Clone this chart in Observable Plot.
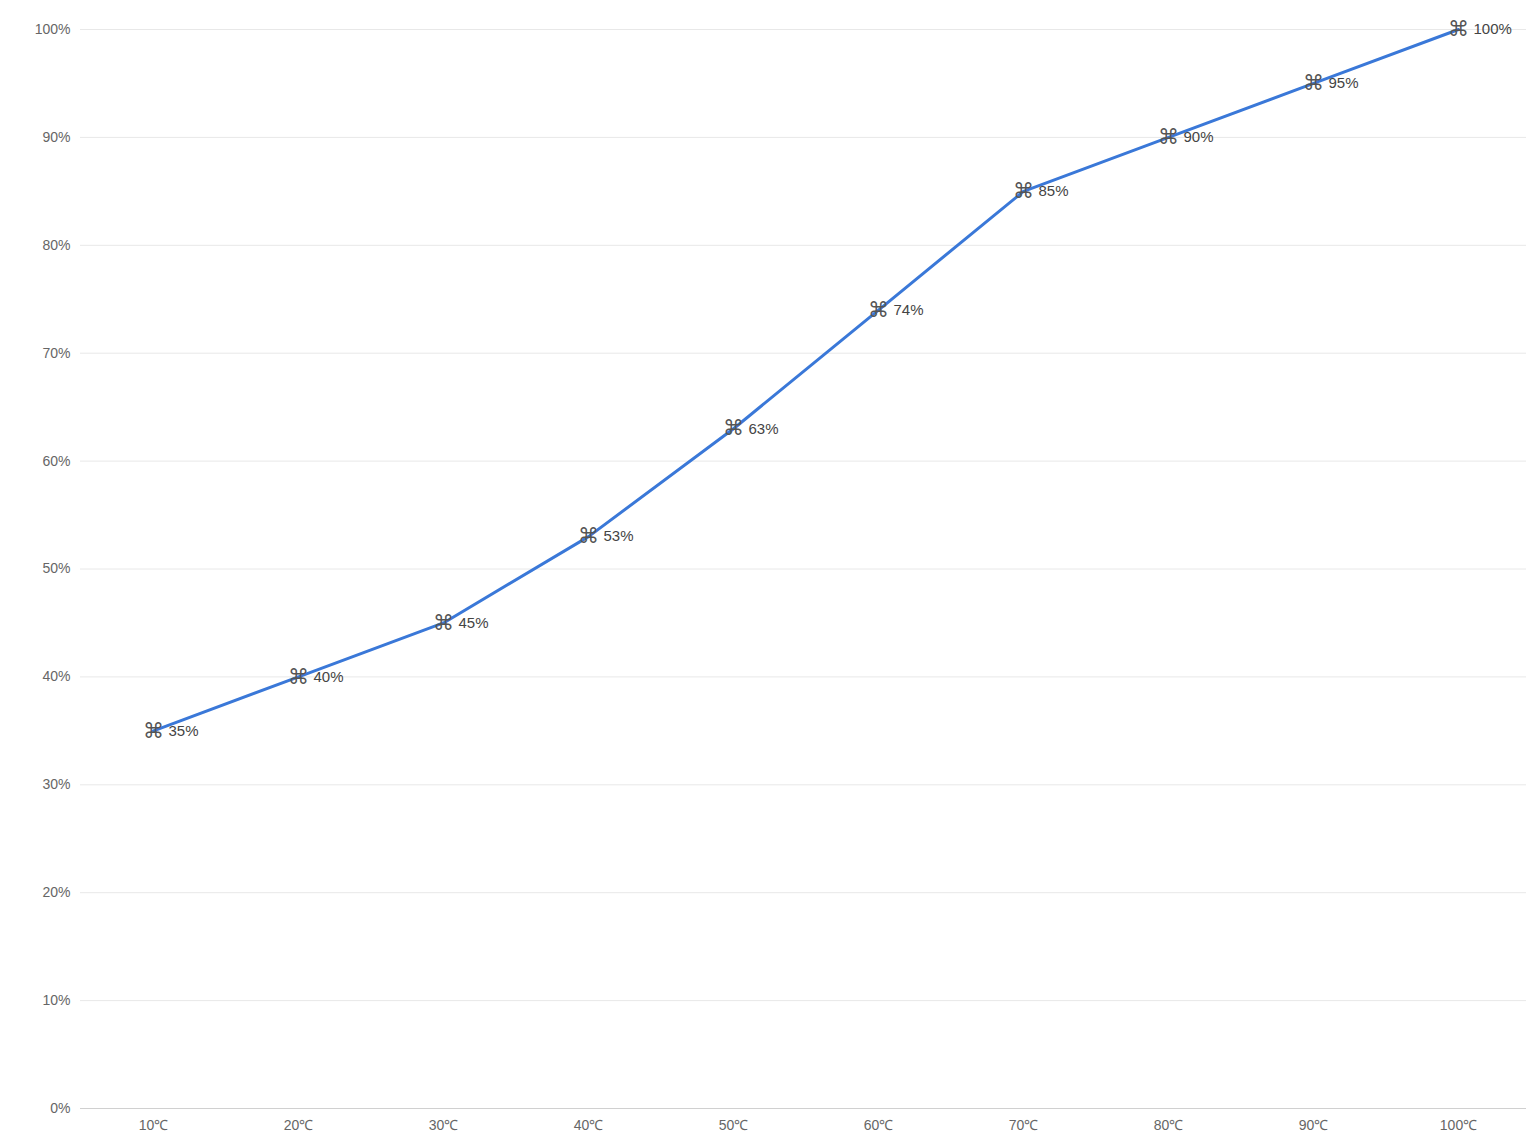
<!DOCTYPE html>
<html>
<head>
<meta charset="utf-8">
<script src="https://cdn.jsdelivr.net/npm/d3@7"></script>
<script src="https://cdn.jsdelivr.net/npm/@observablehq/plot@0.6"></script>
<style>
html,body{margin:0;padding:0;background:#fff;}
svg{display:block;}
</style>
</head>
<body>
<div id="chart"></div>
<script>
const categories = ["10℃","20℃","30℃","40℃","50℃","60℃","70℃","80℃","90℃","100℃"];
const values = [35, 40, 45, 53, 63, 74, 85, 90, 95, 100];
const yTicks = [0,10,20,30,40,50,60,70,80,90,100];

const data = categories.map((c, i) => ({cat: c, v: values[i]}));

const chart = Plot.plot({
  width: 1526,
  height: 1144,
  marginTop: 29,
  marginBottom: 36,
  marginLeft: 80,
  marginRight: 0,
  style: {fontFamily: "'Liberation Sans', Arial, sans-serif", background: "#fff"},
  x: {type: "point", domain: categories, range: [80, 1530], padding: 0.5, label: null},
  y: {domain: [0, 100], label: null},
  marks: [
    Plot.ruleY(yTicks, {stroke: "#e8e8e8"}),
    Plot.ruleY([0], {stroke: "#d0d0d0"}),
    Plot.axisY(yTicks, {tickSize: 0, tickPadding: 10, tickFormat: d => d + "%", fill: "#666", fontSize: 14}),
    Plot.axisX(categories, {tickSize: 0, tickPadding: 12, fill: "#666", fontSize: 14}),
    Plot.line(data, {x: "cat", y: "v", stroke: "#3a78d8", strokeWidth: 3}),
    Plot.text(data, {x: "cat", y: "v", text: () => "⌘", fontFamily: "'DejaVu Sans', sans-serif", fontSize: 21, fill: "#555"}),
    Plot.text(data, {x: "cat", y: "v", text: d => d.v + "%", dx: 15, textAnchor: "start", fontSize: 15, fill: "#444"})
  ]
});
document.getElementById("chart").appendChild(chart);
</script>
</body>
</html>
